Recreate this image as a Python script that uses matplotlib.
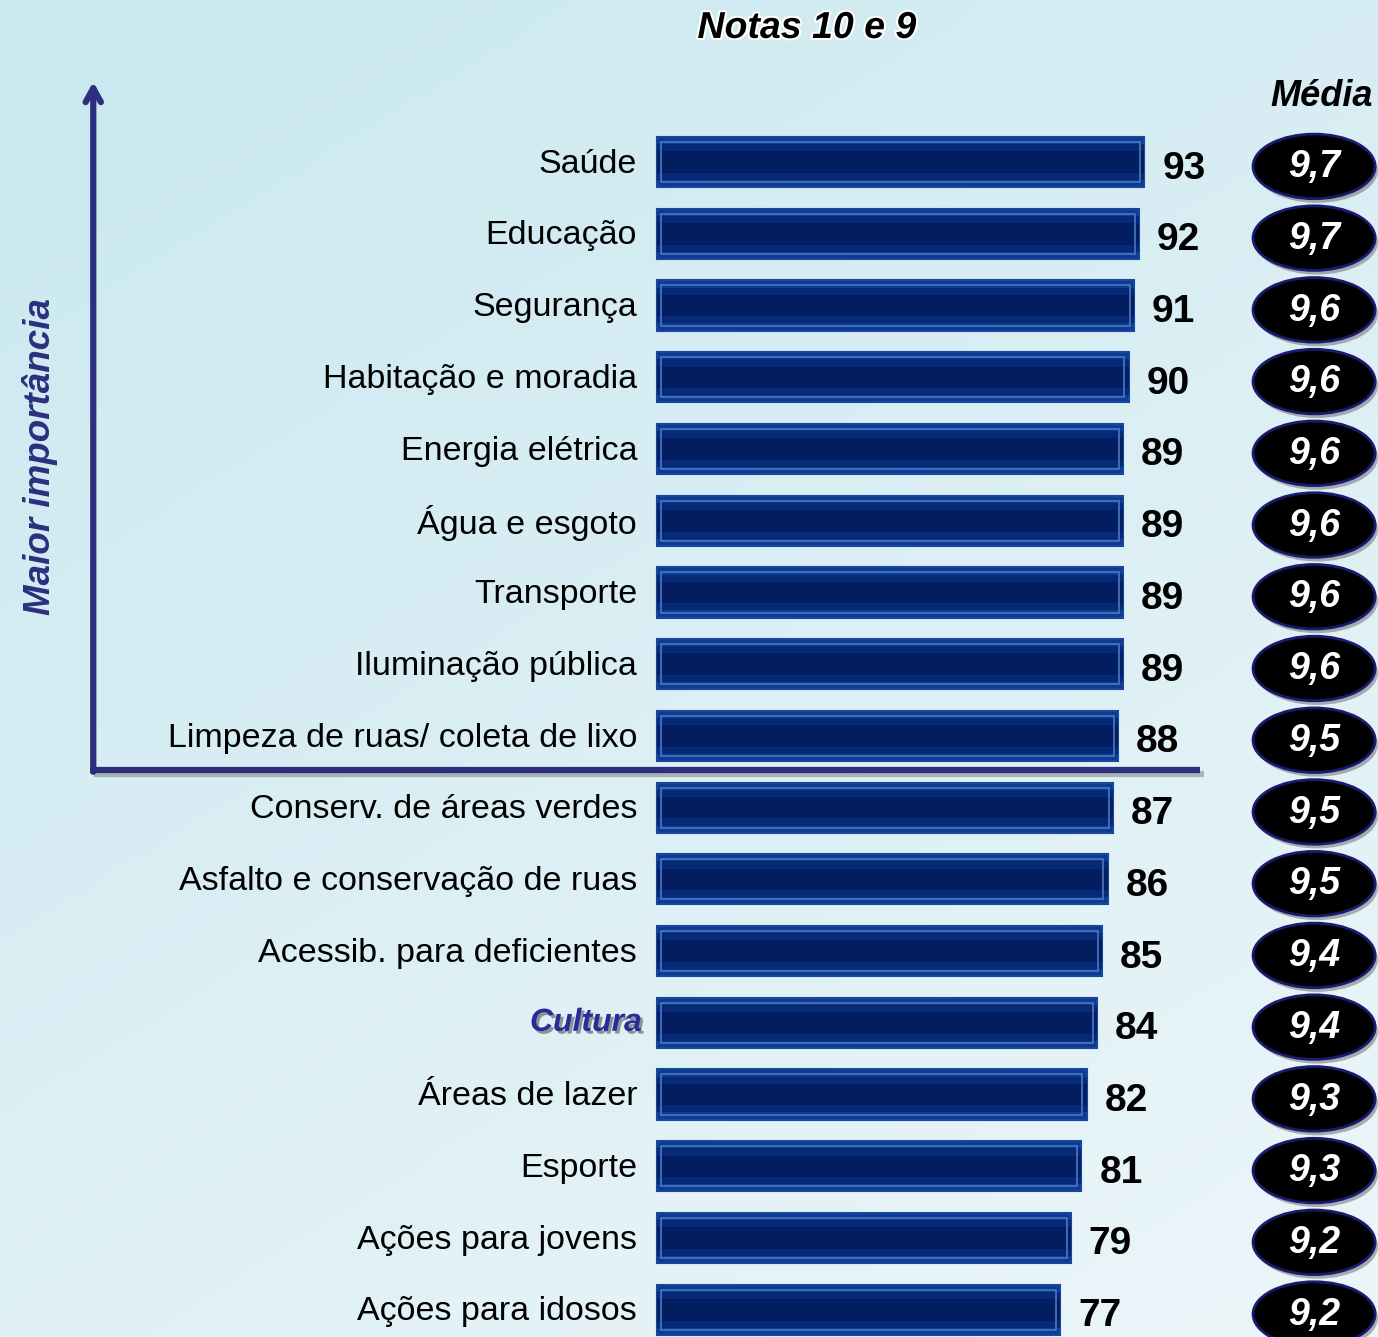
import matplotlib.pyplot as plt
import matplotlib.patheffects as pe
from matplotlib.patches import Ellipse
import numpy as np

plt.rcParams['font.family'] = ['Liberation Sans', 'DejaVu Sans']

categories = ['Saúde', 'Educação', 'Segurança', 'Habitação e moradia',
              'Energia elétrica', 'Água e esgoto', 'Transporte',
              'Iluminação pública', 'Limpeza de ruas/ coleta de lixo',
              'Conserv. de áreas verdes', 'Asfalto e conservação de ruas',
              'Acessib. para deficientes', 'Cultura', 'Áreas de lazer',
              'Esporte', 'Ações para jovens', 'Ações para idosos']
notas = [93, 92, 91, 90, 89, 89, 89, 89, 88, 87, 86, 85, 84, 82, 81, 79, 77]
medias = ['9,7', '9,7', '9,6', '9,6', '9,6', '9,6', '9,6', '9,6', '9,5',
          '9,5', '9,5', '9,4', '9,4', '9,3', '9,3', '9,2', '9,2']
highlight = 'Cultura'

NAVY = '#2b2f7e'

fig = plt.figure(figsize=(13.78, 13.37), dpi=100)
ax = fig.add_axes([0, 0, 1, 1])
xmin, xmax = -125.4, 137.6
ymin, ymax = 16.38, -2.26
ax.set_xlim(xmin, xmax)
ax.set_ylim(ymin, ymax)
ax.axis('off')

# background gradient
gx = np.linspace(0, 1, 200)
gy = np.linspace(0, 1, 200)
GX, GY = np.meshgrid(gx, gy)
top = np.array([0.79, 0.91, 0.94])
bot = np.array([0.94, 0.97, 0.98])
t = np.clip(0.55 * GY + 0.35 * GX, 0, 1)[..., None]
bg = top * (1 - t) + bot * t
ax.imshow(bg, extent=[xmin, xmax, ymin, ymax], aspect='auto', zorder=0)

y = np.arange(len(categories))

# bars
ax.barh(y, notas, height=0.70, color='#0d3b90', edgecolor='#1646a0', linewidth=1.5, zorder=2)
ax.barh(y, notas, height=0.50, color='#062a78', linewidth=0, zorder=3)
ax.barh(y, notas, height=0.30, color='#021d60', linewidth=0, zorder=3)
ax.barh(y, [v - 1.6 for v in notas], left=0.8, height=0.56, fill=False,
        edgecolor='#4b78c0', linewidth=1.2, zorder=4)

shadow = [pe.SimplePatchShadow(offset=(2, -3), shadow_rgbFace='#666666', alpha=0.5), pe.Normal()]

for i, (cat, v, m) in enumerate(zip(categories, notas, medias)):
    if cat == highlight:
        ax.text(-2.9, i, cat, ha='right', va='center', fontsize=23, fontweight='bold',
                fontstyle='italic', color='#2a2a9a', zorder=5,
                path_effects=[pe.withSimplePatchShadow(offset=(2, -2), shadow_rgbFace='#555555', alpha=0.6)])
    else:
        ax.text(-3.8, i + 0.03, cat, ha='right', va='center', fontsize=24.5, color='black', zorder=5)
    ax.text(v + 3.4, i + 0.09, str(v), ha='left', va='center', fontsize=28,
            fontweight='bold', color='black', zorder=5)
    e = Ellipse((125.4, i + 0.06), 23.3, 0.90, facecolor='black', edgecolor='#1a1a70',
                linewidth=2, zorder=5, path_effects=shadow)
    ax.add_patch(e)
    ax.text(125.4, i + 0.07, m, ha='center', va='center', fontsize=27, fontweight='bold',
            fontstyle='italic', color='white', zorder=6)

# importance axis
line_fx = [pe.SimpleLineShadow(offset=(3, -3), shadow_color='#777777', alpha=0.5), pe.Normal()]
ax.plot([-108.2, 103.6], [8.47, 8.47], color=NAVY, linewidth=4.5, zorder=6,
        solid_capstyle='butt', path_effects=line_fx)
ax.annotate('', xy=(-107.6, -1.12), xytext=(-107.6, 8.50),
            arrowprops=dict(arrowstyle='->,head_length=1.0,head_width=0.55', color=NAVY,
                            linewidth=4.5, shrinkA=0, shrinkB=0), zorder=6)
ax.text(-117.8, 4.1, 'Maior importância', rotation=90, ha='center', va='center',
        fontsize=26.5, fontweight='bold', fontstyle='italic', color=NAVY, zorder=6)

ax.text(28.6, -1.87, 'Notas 10 e 9', ha='center', va='center', fontsize=27,
        fontweight='bold', fontstyle='italic', color='black', zorder=6,
        path_effects=[pe.withStroke(linewidth=3, foreground='white')])
ax.text(136.6, -0.91, 'Média', ha='right', va='center', fontsize=26,
        fontweight='bold', fontstyle='italic', color='black', zorder=6)

fig.savefig('out.png', dpi=100)
